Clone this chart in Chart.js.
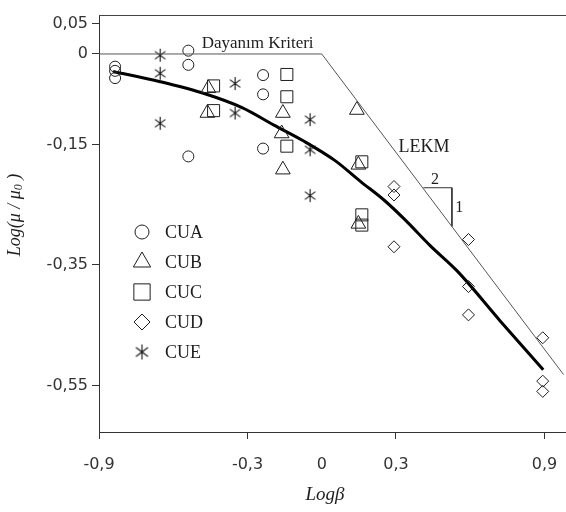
<!DOCTYPE html>
<html>
<head>
<meta charset="utf-8">
<script src="https://cdn.jsdelivr.net/npm/chart.js@4/dist/chart.umd.min.js"></script>
<style>
html, body { margin: 0; padding: 0; background: #fff; }
canvas { display: block; }
</style>
</head>
<body>
<canvas id="chart" width="566" height="512"></canvas>
<script>
// values: Log(beta) on x, Log(mu/mu0) on y
const cuaX = [-0.835, -0.835, -0.835, -0.539, -0.539, -0.539, -0.237, -0.237, -0.237];
const cuaY = [-0.021, -0.028, -0.040, 0.0055, -0.018, -0.170, -0.035, -0.067, -0.157];

const cubX = [-0.458, -0.462, -0.157, -0.162, -0.157, 0.142, 0.148, 0.148];
const cubY = [-0.057, -0.098, -0.098, -0.132, -0.192, -0.093, -0.184, -0.282];

const cucX = [-0.437, -0.437, -0.141, -0.141, -0.141, 0.162, 0.162, 0.162];
const cucY = [-0.053, -0.094, -0.034, -0.071, -0.153, -0.179, -0.267, -0.284];

const cudX = [0.292, 0.292, 0.292, 0.593, 0.593, 0.593, 0.893, 0.893, 0.893];
const cudY = [-0.220, -0.234, -0.320, -0.308, -0.386, -0.433, -0.471, -0.543, -0.560];

const cueX = [-0.653, -0.653, -0.653, -0.350, -0.350, -0.047, -0.047, -0.047];
const cueY = [-0.002, -0.032, -0.115, -0.049, -0.098, -0.109, -0.159, -0.235];

// thick trend curve
const fitX = [-0.843, -0.653, -0.472, -0.322, -0.193, -0.075, 0.054, 0.155, 0.256, 0.336, 0.438, 0.547, 0.721, 0.895];
const fitY = [-0.029, -0.046, -0.066, -0.089, -0.118, -0.144, -0.177, -0.211, -0.244, -0.275, -0.318, -0.360, -0.443, -0.524];

// "Dayanım Kriteri" plateau + LEKM line
const limX = [-0.9, 0, 0.977];
const limY = [0, 0, -0.532];

// small 2:1 slope triangle
const triX = [0.411, 0.526, 0.526];
const triY = [-0.222, -0.222, -0.286];

const xTicks = [-0.9, -0.3, 0, 0.3, 0.9];
const yTicks = [0.05, 0, -0.15, -0.35, -0.55];

const INK = '#1e1e1e';
const pts = (xs, ys) => xs.map((v, i) => ({ x: v, y: ys[i] }));

// 6 armed asterisk used for CUE
function makeStar(size) {
    const c = document.createElement('canvas');
    c.width = size; c.height = size;
    const g = c.getContext('2d');
    const m = size / 2, r = size / 2 - 1;
    g.strokeStyle = '#111'; g.lineWidth = 1.1;
    g.beginPath();
    g.moveTo(m, m - r); g.lineTo(m, m + r);
    g.moveTo(m - r * 0.8, m - r * 0.6); g.lineTo(m + r * 0.8, m + r * 0.6);
    g.moveTo(m - r * 0.8, m + r * 0.6); g.lineTo(m + r * 0.8, m - r * 0.6);
    g.stroke();
    return c;
}
const starSmall = makeStar(15);
const starBig = makeStar(17);

function markerSet(label, xs, ys, style, radius) {
    return {
        label, data: pts(xs, ys), pointStyle: style, pointRadius: radius,
        pointBorderColor: INK, pointBackgroundColor: 'rgba(0,0,0,0)', pointBorderWidth: 1,
        showLine: false
    };
}

function lineSet(xs, ys, width, color) {
    return {
        data: pts(xs, ys), showLine: true, pointRadius: 0, borderColor: color,
        borderWidth: width, fill: false
    };
}

const legendItems = [
    { text: 'CUA', style: 'circle', r: 7 },
    { text: 'CUB', style: 'triangle', r: 10 },
    { text: 'CUC', style: 'rect', r: 11.5 },
    { text: 'CUD', style: 'rectRot', r: 8 },
    { text: 'CUE', style: starBig, r: 8 }
];

// plot area runs to the right edge of the picture, with no frame on that side
const stretchRight = {
    id: 'stretchRight',
    afterLayout(chart) {
        const a = chart.chartArea, xs = chart.scales.x;
        a.right = chart.width; a.width = a.right - a.left;
        xs.right = chart.width; xs.width = xs.right - xs.left;
        xs.configure();
    }
};

const overlay = {
    id: 'overlay',
    afterDraw(chart) {
        const { ctx, chartArea: a, scales: { x, y } } = chart;
        ctx.save();
        // top frame line
        ctx.strokeStyle = '#444'; ctx.lineWidth = 1;
        ctx.beginPath(); ctx.moveTo(a.left, a.top + 0.5); ctx.lineTo(a.right, a.top + 0.5); ctx.stroke();

        ctx.fillStyle = INK;
        ctx.textBaseline = 'alphabetic';
        ctx.textAlign = 'left';
        ctx.font = '17px "Liberation Serif"';
        ctx.fillText('Dayanım Kriteri', x.getPixelForValue(-0.485), y.getPixelForValue(0.0095));
        ctx.font = '18px "Liberation Serif"';
        ctx.fillText('LEKM', x.getPixelForValue(0.31), y.getPixelForValue(-0.162));
        ctx.font = '16px "Liberation Serif"';
        ctx.textAlign = 'center'; ctx.textBaseline = 'middle';
        ctx.fillText('2', x.getPixelForValue(0.458), y.getPixelForValue(-0.209));
        ctx.fillText('1', x.getPixelForValue(0.556), y.getPixelForValue(-0.256));

        // legend
        const drawPoint = Chart.helpers && Chart.helpers.drawPoint;
        legendItems.forEach((it, i) => {
            const ly = 232 + i * 30;
            ctx.strokeStyle = INK; ctx.fillStyle = 'rgba(0,0,0,0)'; ctx.lineWidth = 1;
            if (drawPoint) drawPoint(ctx, { pointStyle: it.style, radius: it.r, rotation: 0, borderWidth: 1 }, 142, ly);
            ctx.fillStyle = INK;
            ctx.font = '18px "Liberation Serif"';
            ctx.textAlign = 'left'; ctx.textBaseline = 'middle';
            ctx.fillText(it.text, 165, ly + 1);
        });

        // x title
        ctx.font = 'italic 19px "Liberation Serif"';
        ctx.textAlign = 'center'; ctx.textBaseline = 'middle';
        ctx.fillText('Logβ', 325, 495);

        // y title with subscript
        ctx.translate(15, 215);
        ctx.rotate(-Math.PI / 2);
        const big = 'italic 18px "Liberation Serif"', small = 'italic 12px "Liberation Serif"';
        const parts = [['Log(μ / μ', big, 0], ['0', small, 4], [' )', big, 0]];
        let total = 0;
        parts.forEach(p => { ctx.font = p[1]; total += ctx.measureText(p[0]).width; });
        let cx = -total / 2;
        ctx.textAlign = 'left';
        parts.forEach(p => { ctx.font = p[1]; ctx.fillText(p[0], cx, p[2]); cx += ctx.measureText(p[0]).width; });
        ctx.restore();
    }
};

const fmt = v => v === 0 ? '0' : String(v).replace('.', ',');

new Chart(document.getElementById('chart'), {
    type: 'scatter',
    data: {
        datasets: [
            lineSet(limX, limY, 1, '#555'),
            lineSet(triX, triY, 1, '#333'),
            markerSet('CUA', cuaX, cuaY, 'circle', 5.5),
            markerSet('CUB', cubX, cubY, 'triangle', 8.5),
            markerSet('CUC', cucX, cucY, 'rect', 8.5),
            markerSet('CUD', cudX, cudY, 'rectRot', 6),
            markerSet('CUE', cueX, cueY, starSmall, 7),
            { ...lineSet(fitX, fitY, 3, '#000'), cubicInterpolationMode: 'monotone' }
        ]
    },
    options: {
        responsive: false,
        animation: false,
        layout: { padding: { top: 15, left: 0, right: 0, bottom: 0 } },
        plugins: { legend: { display: false }, tooltip: { enabled: false } },
        scales: {
            x: {
                type: 'linear', min: -0.9, max: 0.987,
                afterBuildTicks: s => { s.ticks = xTicks.map(v => ({ value: v })); },
                afterFit: s => { s.height = 80; },
                ticks: { callback: fmt, color: '#333', padding: 2, maxRotation: 0,
                         font: { family: 'DejaVu Sans', size: 16, lineHeight: 3 } },
                grid: { drawOnChartArea: false, tickLength: 7,
                        tickColor: c => (c.tick && c.tick.value === 0) ? 'rgba(0,0,0,0)' : '#333' },
                border: { color: '#333', width: 1 }
            },
            y: {
                type: 'linear', min: -0.6274, max: 0.0647,
                afterBuildTicks: s => { s.ticks = yTicks.map(v => ({ value: v })); },
                afterFit: s => { s.width = 99; },
                ticks: { callback: fmt, color: '#333', padding: 4,
                         font: { family: 'DejaVu Sans', size: 16 } },
                grid: { drawOnChartArea: false, tickLength: 7, tickColor: '#333' },
                border: { color: '#333', width: 1 }
            }
        }
    },
    plugins: [stretchRight, overlay]
});
</script>
</body>
</html>
